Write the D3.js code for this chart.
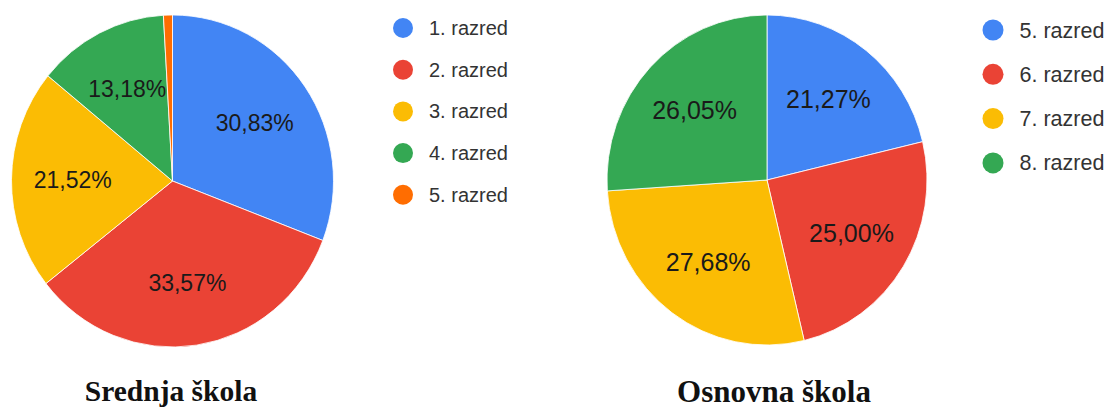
<!DOCTYPE html>
<html>
<head>
<meta charset="utf-8">
<script src="https://cdn.jsdelivr.net/npm/d3@7"></script>
<style>
  body { margin: 0; background: #fff; }
  svg { display: block; }
</style>
</head>
<body>
<svg id="chart" width="1113" height="409"></svg>
<script>
// data
const srednjaLabels = ['1. razred', '2. razred', '3. razred', '4. razred', '5. razred'];
const srednjaValues = [30.83, 33.57, 21.52, 13.18, 0.90];
const osnovnaLabels = ['5. razred', '6. razred', '7. razred', '8. razred'];
const osnovnaValues = [21.27, 25.00, 27.68, 26.05];
const titles = ['Srednja škola', 'Osnovna škola'];

const colors = ['#4285F4', '#EA4335', '#FBBC04', '#34A853', '#FF6D01'];

const svg = d3.select('#chart');

function drawPie(opts) {
  const { labels, values, cx, cy, rx, ry, labelSize, legendX, legendY, legendStep, legendSize, dotR, title, titleX, titleY, titleSize } = opts;
  const data = labels.map((l, i) => ({ label: l, value: values[i] }));

  const color = d3.scaleOrdinal().domain(labels).range(colors);
  const pie = d3.pie().sort(null).value(d => d.value);
  const arc = d3.arc().innerRadius(0).outerRadius(rx);
  const labelArc = d3.arc().innerRadius(rx * 0.62).outerRadius(rx * 0.62);
  const sy = ry / rx;

  const arcs = pie(data);

  svg.append('g')
    .attr('transform', `translate(${cx},${cy}) scale(1,${sy})`)
    .selectAll('path')
    .data(arcs)
    .join('path')
      .attr('d', arc)
      .attr('fill', d => color(d.data.label))
      .attr('stroke', '#fff')
      .attr('stroke-width', 0.8);

  // percentage labels, skip tiny slices
  const fmt = v => v.toFixed(2).replace('.', ',') + '%';
  svg.append('g')
    .selectAll('text')
    .data(arcs.filter(d => d.data.value > 5))
    .join('text')
      .attr('x', d => cx + labelArc.centroid(d)[0])
      .attr('y', d => cy + labelArc.centroid(d)[1] * sy)
      .attr('dy', '0.35em')
      .attr('text-anchor', 'middle')
      .attr('font-family', 'Liberation Sans, Arial, sans-serif')
      .attr('font-size', labelSize)
      .attr('fill', '#1a1a1a')
      .text(d => fmt(d.data.value));

  // legend
  const legend = svg.append('g')
    .attr('transform', `translate(${legendX},${legendY})`);

  legend.selectAll('circle')
    .data(data)
    .join('circle')
      .attr('cx', 0)
      .attr('cy', (d, i) => i * legendStep)
      .attr('r', dotR)
      .attr('fill', d => color(d.label));

  legend.selectAll('text')
    .data(data)
    .join('text')
      .attr('x', dotR + 16)
      .attr('y', (d, i) => i * legendStep)
      .attr('dy', '0.35em')
      .attr('font-family', 'Liberation Sans, Arial, sans-serif')
      .attr('font-size', legendSize)
      .attr('fill', '#333')
      .text(d => d.label);

  svg.append('text')
    .attr('x', titleX)
    .attr('y', titleY)
    .attr('text-anchor', 'middle')
    .attr('font-family', 'Liberation Serif, Times New Roman, serif')
    .attr('font-weight', 'bold')
    .attr('font-size', titleSize)
    .attr('fill', '#111')
    .text(title);
}

drawPie({
  labels: srednjaLabels, values: srednjaValues,
  cx: 172.5, cy: 181, rx: 161, ry: 166, labelSize: 23,
  legendX: 403, legendY: 28, legendStep: 41.7, legendSize: 20, dotR: 10,
  title: titles[0], titleX: 171, titleY: 401, titleSize: 29.5
});

drawPie({
  labels: osnovnaLabels, values: osnovnaValues,
  cx: 767, cy: 180, rx: 160, ry: 165, labelSize: 25,
  legendX: 993, legendY: 30, legendStep: 44.3, legendSize: 21.5, dotR: 10.5,
  title: titles[1], titleX: 774, titleY: 402, titleSize: 31
});
</script>
</body>
</html>
